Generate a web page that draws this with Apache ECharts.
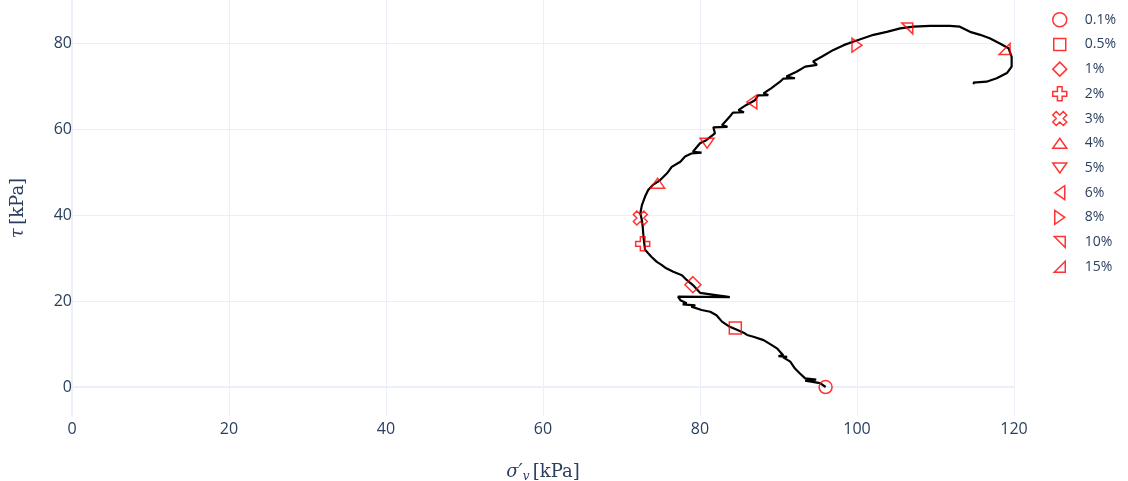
<!DOCTYPE html>
<html>
<head>
<meta charset="utf-8">
<script src="https://cdn.jsdelivr.net/npm/echarts@6/dist/echarts.min.js"></script>
<style>html,body{margin:0;padding:0;background:#fff}#c{width:1128px;height:481px}</style>
</head>
<body>
<div id="c"></div>
<script>
// stress path (sigma'_v, tau) in kPa (incl. the small back-and-forth steps)
const pathX = [96.0, 95.9, 95.3, 95.4, 93.4, 94.8, 93.4, 92.7, 92.1, 91.5, 90.6, 91.1, 90.0, 90.6, 89.8, 89.1, 88.1, 86.8, 86.9, 86.0, 85.7, 84.7, 83.8, 82.8, 82.1, 81.3, 80.2, 78.9, 79.4, 77.8, 78.3, 77.5, 77.2, 83.8, 80.0, 79.1, 78.3, 77.7, 76.6, 75.7, 75.1, 74.5, 73.8, 73.4, 73.0, 72.9, 72.8, 72.7, 72.6, 72.4, 72.6, 73.0, 73.4, 74.0, 74.6, 74.9, 75.8, 76.4, 77.5, 78.1, 78.9, 80.2, 79.1, 80.0, 80.8, 81.9, 81.7, 83.5, 82.8, 83.8, 84.2, 85.6, 84.9, 85.9, 87.0, 87.4, 88.7, 88.1, 89.1, 90.2, 90.6, 92.1, 91.0, 92.3, 93.4, 93.4, 94.9, 94.4, 95.5, 97.0, 98.3, 99.5, 100.8, 102.1, 103.8, 105.5, 107.2, 109.3, 111.8, 113.1, 114.4, 115.7, 116.9, 118.2, 119.3, 119.7, 119.7, 119.1, 117.8, 116.5, 114.8, 115.0];
const pathY = [0.0, 0.1, 0.9, 1.3, 1.5, 1.7, 2.0, 3.2, 4.3, 5.9, 6.9, 7.0, 7.2, 7.4, 9.0, 9.8, 10.9, 11.7, 12.0, 12.1, 12.5, 13.3, 14.0, 15.2, 16.7, 17.5, 17.9, 18.7, 19.0, 19.2, 19.5, 20.2, 21.0, 20.9, 21.9, 23.7, 24.9, 26.0, 26.8, 27.6, 28.4, 29.1, 30.3, 31.1, 31.9, 33.4, 35.0, 37.3, 38.8, 40.4, 42.3, 44.3, 45.8, 47.0, 47.7, 48.1, 49.7, 51.2, 52.4, 53.6, 54.3, 54.5, 54.7, 56.7, 57.4, 59.0, 60.4, 60.5, 60.9, 62.9, 63.8, 63.9, 64.4, 65.6, 66.7, 67.8, 67.9, 68.3, 69.5, 71.0, 71.7, 71.8, 72.2, 73.3, 74.5, 74.8, 74.9, 75.7, 76.8, 78.4, 79.5, 80.3, 81.1, 81.9, 82.6, 83.4, 83.8, 84.0, 84.0, 83.8, 82.6, 81.9, 81.1, 79.9, 78.8, 76.8, 74.5, 73.0, 71.8, 71.0, 70.8, 70.5];

// strain markers
const strainLabels = ['0.1%', '0.5%', '1%', '2%', '3%', '4%', '5%', '6%', '8%', '10%', '15%'];
const markerX = [96.0, 84.5, 79.1, 72.7, 72.4, 74.6, 80.9, 86.6, 100.0, 106.4, 118.8];
const markerY = [0.0, 13.7, 23.8, 33.3, 39.3, 47.4, 56.7, 66.3, 79.5, 83.4, 78.6];

// axis ticks
const xTicks = [0, 20, 40, 60, 80, 100, 120];
const yTicks = [0, 20, 40, 60, 80];

// open marker shapes (first two moveTo's only fix the square bounding box)
const symbols = [
  'circle',
  'path://M0,0M14,14M1,1H13V13H1Z',
  'path://M8,0L16,8L8,16L0,8Z',
  'path://M3,1H1V3H-1V1H-3V-1H-1V-3H1V-1H3Z',
  'path://M0,1L1,2L2,1L1,0L2,-1L1,-2L0,-1L-1,-2L-2,-1L-1,0L-2,1L-1,2Z',
  'path://M0,0M14,14M7,2L14,12H0Z',
  'path://M0,0M14,14M0,2H14L7,12Z',
  'path://M0,0M14,14M12,0V14L2,7Z',
  'path://M0,0M14,14M2,0V14L12,7Z',
  'path://M0,0M14,14M1.5,1.5H12.5V12.5Z',
  'path://M0,0M14,14M12.5,1.5V12.5H1.5Z'
];
const sizes = [13, 14, 16, 14, 14, 14, 14, 14, 14, 14, 14];

const FONT = '"Open Sans", sans-serif';
const TXT = '#2a3f5f';
const GRID = '#EBF0F8';

const series = [{
  type: 'line',
  name: 'path',
  data: pathX.map((x, i) => [x, pathY[i]]),
  showSymbol: false,
  symbol: 'none',
  lineStyle: { color: '#000', width: 2.2 },
  z: 2,
  markLine: {
    silent: true, symbol: 'none', label: { show: false },
    lineStyle: { color: GRID, width: 2, type: 'solid' },
    data: [{ yAxis: 0 }],
    z: 1
  }
}];
strainLabels.forEach((lab, i) => {
  series.push({
    type: 'scatter',
    name: lab,
    data: [[markerX[i], markerY[i]]],
    symbol: symbols[i],
    symbolSize: sizes[i],
    symbolKeepAspect: true,
    itemStyle: { color: 'rgba(255,255,255,0)', borderColor: '#ff0000', borderWidth: 1.5 },
    z: 5
  });
});

const chart = echarts.init(document.getElementById('c'), null, { renderer: 'canvas' });
chart.setOption({
  animation: false,
  backgroundColor: '#fff',
  grid: { left: 72, right: 114, top: 0, bottom: 65, containLabel: false, outerBoundsMode: 'none' },
  legend: {
    data: strainLabels,
    orient: 'vertical',
    left: 1047, top: 7,
    itemWidth: 40, itemHeight: 14, itemGap: 9.2,
    selectedMode: false,
    symbolKeepAspect: true,
    textStyle: { fontFamily: FONT, fontSize: 14, color: TXT },
    itemStyle: { color: 'rgba(255,255,255,0)', borderColor: '#ff0000', borderWidth: 1.5 }
  },
  xAxis: {
    type: 'value', min: 0, max: 120, interval: 20,
    axisLine: { show: false }, axisTick: { show: false },
    axisLabel: { fontFamily: FONT, fontSize: 16, color: TXT, margin: 5 },
    splitLine: { show: true, lineStyle: { color: GRID, width: 1 } },
    name: '{i|σ′}{s|v} {n|[kPa]}',
    nameLocation: 'middle', nameGap: 45,
    nameTextStyle: {
      rich: {
        i: { fontFamily: '"DejaVu Serif", serif', fontStyle: 'italic', fontSize: 18, color: TXT },
        s: { fontFamily: '"DejaVu Serif", serif', fontStyle: 'italic', fontSize: 12, color: TXT, verticalAlign: 'bottom', padding: [10, 0, 0, 0] },
        n: { fontFamily: '"DejaVu Serif", serif', fontSize: 18, color: TXT }
      }
    }
  },
  yAxis: {
    type: 'value', min: -6.74, max: 90,
    axisLine: { show: true, lineStyle: { color: GRID, width: 2 } },
    axisTick: { show: false, customValues: yTicks },
    axisLabel: { fontFamily: FONT, fontSize: 16, color: TXT, margin: 0, customValues: yTicks },
    splitLine: { show: true, lineStyle: { color: GRID, width: 1 } },
    name: '{i|τ} {n|[kPa]}',
    nameLocation: 'middle', nameGap: 45, nameRotate: 90,
    nameTextStyle: {
      rich: {
        i: { fontFamily: '"DejaVu Serif", serif', fontStyle: 'italic', fontSize: 18, color: TXT },
        n: { fontFamily: '"DejaVu Serif", serif', fontSize: 18, color: TXT }
      }
    }
  },
  series: series
});
</script>
</body>
</html>
